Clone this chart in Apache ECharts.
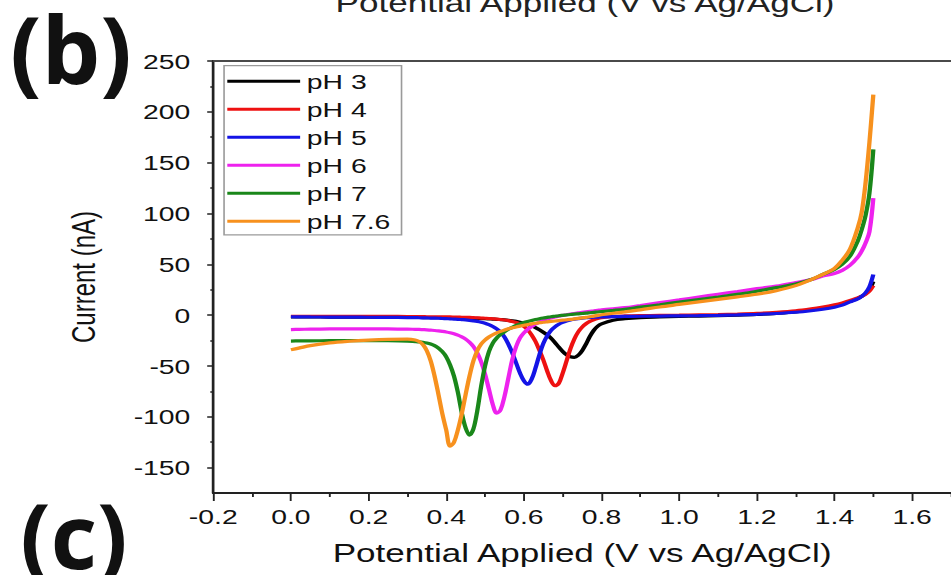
<!DOCTYPE html>
<html>
<head>
<meta charset="utf-8">
<title>Current vs potential at several pH values</title>
<script src="https://cdn.jsdelivr.net/npm/echarts@6/dist/echarts.min.js"></script>
<style>
  html, body { margin: 0; padding: 0; background: #fff; overflow: hidden; width: 951px; height: 575px; }
  /* the figure is laid out on a narrower canvas and widened horizontally */
  #chart { width: 705px; height: 575px; transform: scaleX(1.3489); transform-origin: 0 0; }
</style>
</head>
<body>
<div id="chart"></div>
<script>
// Applied potential (V vs Ag/AgCl), shared by all sweeps
const potential = [
  0, 0.02, 0.05, 0.1, 0.15, 0.2, 0.25, 0.3,
  0.32, 0.33, 0.34, 0.35, 0.36, 0.37, 0.38, 0.39, 0.40, 0.41, 0.42, 0.43, 0.44, 0.45, 0.46, 0.47, 0.48, 0.49,
  0.50, 0.51, 0.52, 0.53, 0.54, 0.55, 0.56, 0.57, 0.58, 0.59,
  0.60, 0.61, 0.62, 0.63, 0.64, 0.65, 0.66, 0.67, 0.68, 0.69,
  0.70, 0.71, 0.72, 0.73, 0.74, 0.75, 0.76, 0.77, 0.78, 0.79, 0.80,
  0.83, 0.86, 0.9, 0.95, 1.0, 1.05, 1.1, 1.15, 1.2, 1.25, 1.3, 1.34, 1.37, 1.4, 1.42, 1.44, 1.46, 1.47, 1.48, 1.49, 1.5
];

// Current (nA) for each pH
const currentPH3 = [
  -1.8, -1.8, -1.8, -1.9, -1.9, -2.0, -2.1, -2.2,
  -2.3, -2.3, -2.4, -2.4, -2.5, -2.5, -2.6, -2.6, -2.7, -2.7, -2.8, -2.9, -2.9, -3.0, -3.1, -3.2, -3.3, -3.4,
  -3.5, -3.7, -3.9, -4.1, -4.4, -4.7, -5.1, -5.6, -6.2, -7.0,
  -8.0, -9.2, -10.6, -12.3, -14.4, -16.8, -19.5, -22.8, -27.0, -31.5,
  -35.8, -39.0, -41.0, -41.5, -39.5, -35.0, -28.5, -21.0, -15.0, -11.0, -8.6,
  -5.0, -3.5, -2.4, -1.8, -1.3, -0.9, -0.5, 0.0, 0.7, 1.8, 3.2, 5.0, 6.8, 9.0, 11.0, 13.5, 16.5, 18.5, 21.0, 25.0, 33.0
];
const currentPH4 = [
  -1.2, -1.2, -1.2, -1.2, -1.2, -1.3, -1.3, -1.4,
  -1.5, -1.5, -1.5, -1.6, -1.6, -1.6, -1.7, -1.7, -1.8, -1.8, -1.9, -2.0, -2.1, -2.2, -2.3, -2.5, -2.7, -2.9,
  -3.1, -3.3, -3.6, -3.9, -4.3, -4.8, -5.4, -6.2, -7.3, -8.8,
  -11.0, -14.5, -19.5, -26.0, -34.5, -44.0, -55.0, -64.5, -69.5, -67.0,
  -57.0, -45.0, -33.0, -23.5, -16.5, -11.8, -8.5, -6.2, -4.6, -3.4, -2.6,
  -1.3, -0.8, -0.5, -0.3, -0.1, 0.2, 0.5, 1.0, 1.7, 2.8, 4.3, 6.2, 8.0, 10.2, 12.0, 14.3, 17.0, 18.5, 20.5, 23.5, 29.0
];
const currentPH5 = [
  -1.6, -1.7, -1.8, -1.9, -2.0, -2.1, -2.2, -2.4,
  -2.5, -2.6, -2.7, -2.8, -2.9, -3.0, -3.1, -3.3, -3.5, -3.7, -3.9, -4.1, -4.4, -4.7, -5.1, -5.6, -6.2, -7.0,
  -8.0, -9.4, -11.2, -13.6, -16.8, -21.5, -28.5, -37.0, -47.0, -57.0,
  -64.5, -68.0, -63.0, -52.0, -39.0, -28.0, -20.5, -15.0, -11.5, -9.0,
  -7.2, -5.9, -4.9, -4.1, -3.5, -3.0, -2.6, -2.3, -2.1, -1.9, -1.8,
  -1.5, -1.3, -1.1, -0.9, -0.7, -0.5, -0.2, 0.2, 0.8, 1.6, 2.8, 4.3, 5.8, 7.8, 9.8, 13.0, 16.0, 18.5, 22.0, 28.0, 40.0
];
const currentPH6 = [
  -14.2, -14.0, -13.8, -13.6, -13.5, -13.5, -13.6, -13.8,
  -14.0, -14.1, -14.3, -14.5, -14.8, -15.1, -15.5, -16.0, -16.6, -17.4, -18.4, -19.7, -21.4, -23.6, -26.6, -30.8, -37.0, -46.0,
  -58.0, -73.0, -88.0, -96.5, -93.0, -80.0, -62.0, -44.0, -31.0, -22.5,
  -17.5, -14.0, -11.2, -8.8, -6.8, -5.2, -3.9, -2.8, -1.8, -1.0,
  -0.3, 0.4, 1.0, 1.6, 2.2, 2.7, 3.2, 3.7, 4.2, 4.7, 5.2,
  6.3, 7.3, 9.5, 12.3, 15.0, 17.8, 20.5, 23.2, 26.0, 28.5, 32.0, 35.0, 38.5, 41.0, 44.0, 49.0, 57.0, 63.0, 71.0, 82.0, 115.0
];
const currentPH7 = [
  -25.5, -25.4, -25.3, -25.1, -25.0, -25.0, -25.1, -25.5,
  -26.0, -26.3, -26.8, -27.5, -28.5, -30.0, -32.5, -36.0, -41.0, -49.0, -60.0, -76.0, -96.0, -111.0, -118.0, -112.0, -94.0, -70.0,
  -50.0, -36.0, -27.5, -22.5, -19.0, -16.3, -14.0, -12.0, -10.2, -8.6,
  -7.3, -6.2, -5.2, -4.3, -3.5, -2.8, -2.2, -1.6, -1.1, -0.6,
  -0.2, 0.2, 0.6, 1.0, 1.3, 1.6, 1.9, 2.3, 2.7, 3.1, 3.5,
  4.6, 5.8, 7.8, 10.2, 12.8, 15.3, 17.8, 20.5, 23.5, 27.0, 30.5, 35.0, 40.0, 45.0, 50.0, 58.0, 73.0, 84.0, 98.0, 120.0, 163.0
];
const currentPH76 = [
  -34.0, -32.5, -30.0, -27.3, -25.7, -24.6, -23.9, -23.7,
  -24.5, -26.0, -29.0, -35.0, -45.0, -60.0, -78.0, -97.0, -113.0, -129.0, -125.0, -113.0, -97.0, -78.0, -60.0, -45.0, -35.0, -28.5,
  -24.5, -21.5, -19.3, -17.5, -16.0, -14.7, -13.5, -12.5, -11.6, -10.8,
  -10.0, -9.3, -8.6, -8.0, -7.5, -7.0, -6.6, -6.2, -5.8, -5.4,
  -5.0, -4.6, -4.2, -3.7, -3.2, -2.7, -2.2, -1.6, -1.0, -0.3, 0.4,
  1.8, 3.2, 5.2, 8.0, 10.5, 13.0, 15.5, 18.0, 20.5, 24.0, 29.0, 35.0, 40.0, 46.0, 54.0, 65.0, 86.0, 101.0, 130.0, 170.0, 217.0
];

const seriesNames = ['pH 3', 'pH 4', 'pH 5', 'pH 6', 'pH 7', 'pH 7.6'];
const seriesValues = [currentPH3, currentPH4, currentPH5, currentPH6, currentPH7, currentPH76];
const seriesColors = ['#000000', '#ee1111', '#1414e6', '#ee22ee', '#1a871a', '#f7911e'];

// Axis tick positions
const xTicks = [-0.2, 0.0, 0.2, 0.4, 0.6, 0.8, 1.0, 1.2, 1.4, 1.6];
const xMinorTicks = [-0.1, 0.1, 0.3, 0.5, 0.7, 0.9, 1.1, 1.3, 1.5, 1.7];
const yTicks = [-150, -100, -50, 0, 50, 100, 150, 200, 250];
const yMinorTicks = [-125, -75, -25, 25, 75, 125, 175, 225];

const WIDEN = 1.3489;  // horizontal stretch applied to the container
const FONT = '"Liberation Sans", Arial, Helvetica, sans-serif';
const AXIS_COLOR = '#222';

const chart = echarts.init(document.getElementById('chart'), null, { renderer: 'svg' });

chart.setOption({
  animation: false,
  backgroundColor: '#ffffff',
  textStyle: { fontFamily: FONT },
  grid: { left: 158.1, right: -1.1, top: 61, bottom: 82, show: false },
  legend: {
    orient: 'vertical',
    left: 166.1, top: 65.7,
    data: seriesNames,
    icon: 'rect',
    itemWidth: 54, itemHeight: 3,
    itemGap: 7.0,
    padding: [5, 8.3, 3.2, 2.4],
    borderColor: '#9a9a9a', borderWidth: 1.2,
    backgroundColor: '#ffffff',
    textStyle: { fontSize: 21, lineHeight: 20, color: '#111', fontFamily: FONT }
  },
  xAxis: [
    {
      type: 'value', min: -0.2, max: 1.7, position: 'bottom',
      axisLine: { show: true, onZero: false, lineStyle: { color: AXIS_COLOR, width: 2 } },
      axisTick: { show: true, length: 8, customValues: xTicks, lineStyle: { color: AXIS_COLOR, width: 1.4 } },
      axisLabel: { customValues: xTicks, formatter: v => v.toFixed(1), fontSize: 21, color: '#111', margin: 13, fontFamily: FONT },
      splitLine: { show: false },
      name: 'Potential Applied (V vs Ag/AgCl)',
      nameLocation: 'middle', nameGap: 47,
      nameTextStyle: { fontSize: 26, color: '#111', fontFamily: FONT }
    },
    {
      // minor ticks along the bottom
      type: 'value', min: -0.2, max: 1.7, position: 'bottom',
      axisLine: { show: false, onZero: false },
      axisTick: { show: true, length: 4, customValues: xMinorTicks, lineStyle: { color: AXIS_COLOR, width: 1.4 } },
      axisLabel: { show: false },
      splitLine: { show: false }
    },
    {
      // frame line along the top
      type: 'value', min: -0.2, max: 1.7, position: 'top',
      axisLine: { show: true, onZero: false, lineStyle: { color: '#4a4a4a', width: 2 } },
      axisTick: { show: false },
      axisLabel: { show: false },
      splitLine: { show: false }
    }
  ],
  yAxis: [
    {
      type: 'value', min: -175, max: 250, position: 'left',
      axisLine: { show: true, onZero: false, lineStyle: { color: AXIS_COLOR, width: 2 } },
      axisTick: { show: true, length: 4.5, customValues: yTicks, lineStyle: { color: AXIS_COLOR, width: 1.5 } },
      axisLabel: { customValues: yTicks, fontSize: 21, color: '#111', margin: 17, fontFamily: FONT },
      splitLine: { show: false },
      name: 'Current (nA)',
      nameLocation: 'middle', nameGap: 84,
      nameTextStyle: { fontSize: 24, color: '#111', fontFamily: FONT }
    },
    {
      // minor ticks along the left
      type: 'value', min: -175, max: 250, position: 'left',
      axisLine: { show: false, onZero: false },
      axisTick: { show: true, length: 2.2, customValues: yMinorTicks, lineStyle: { color: AXIS_COLOR, width: 1.5 } },
      axisLabel: { show: false },
      splitLine: { show: false }
    }
  ],
  graphic: [
    {
      type: 'text', x: 7.4, y: 1.5, scaleX: 1 / WIDEN, z: 100,
      style: { text: '(b)', fill: '#111', font: 'bold 93px "Open Sans", "Noto Sans", sans-serif', textAlign: 'left', textVerticalAlign: 'top' }
    },
    {
      type: 'text', x: 15, y: 489, scaleX: 1 / WIDEN, z: 100,
      style: { text: '(c)', fill: '#111', font: 'bold 90px "Open Sans", "Noto Sans", sans-serif', textAlign: 'left', textVerticalAlign: 'top' }
    },
    {
      type: 'text', x: 433.7, y: -10, z: 100,
      style: { text: 'Potential Applied (V vs Ag/AgCl)', fill: '#222', font: '26px ' + FONT, textAlign: 'center', textVerticalAlign: 'top' }
    }
  ],
  series: seriesNames.map((name, k) => ({
    name: name,
    type: 'line',
    xAxisIndex: 0, yAxisIndex: 0,
    data: potential.map((v, i) => [v, seriesValues[k][i]]),
    showSymbol: false,
    smooth: 0.35,
    lineStyle: { color: seriesColors[k], width: 3.2 },
    itemStyle: { color: seriesColors[k] },
    z: 2 + k
  }))
});
</script>
</body>
</html>
